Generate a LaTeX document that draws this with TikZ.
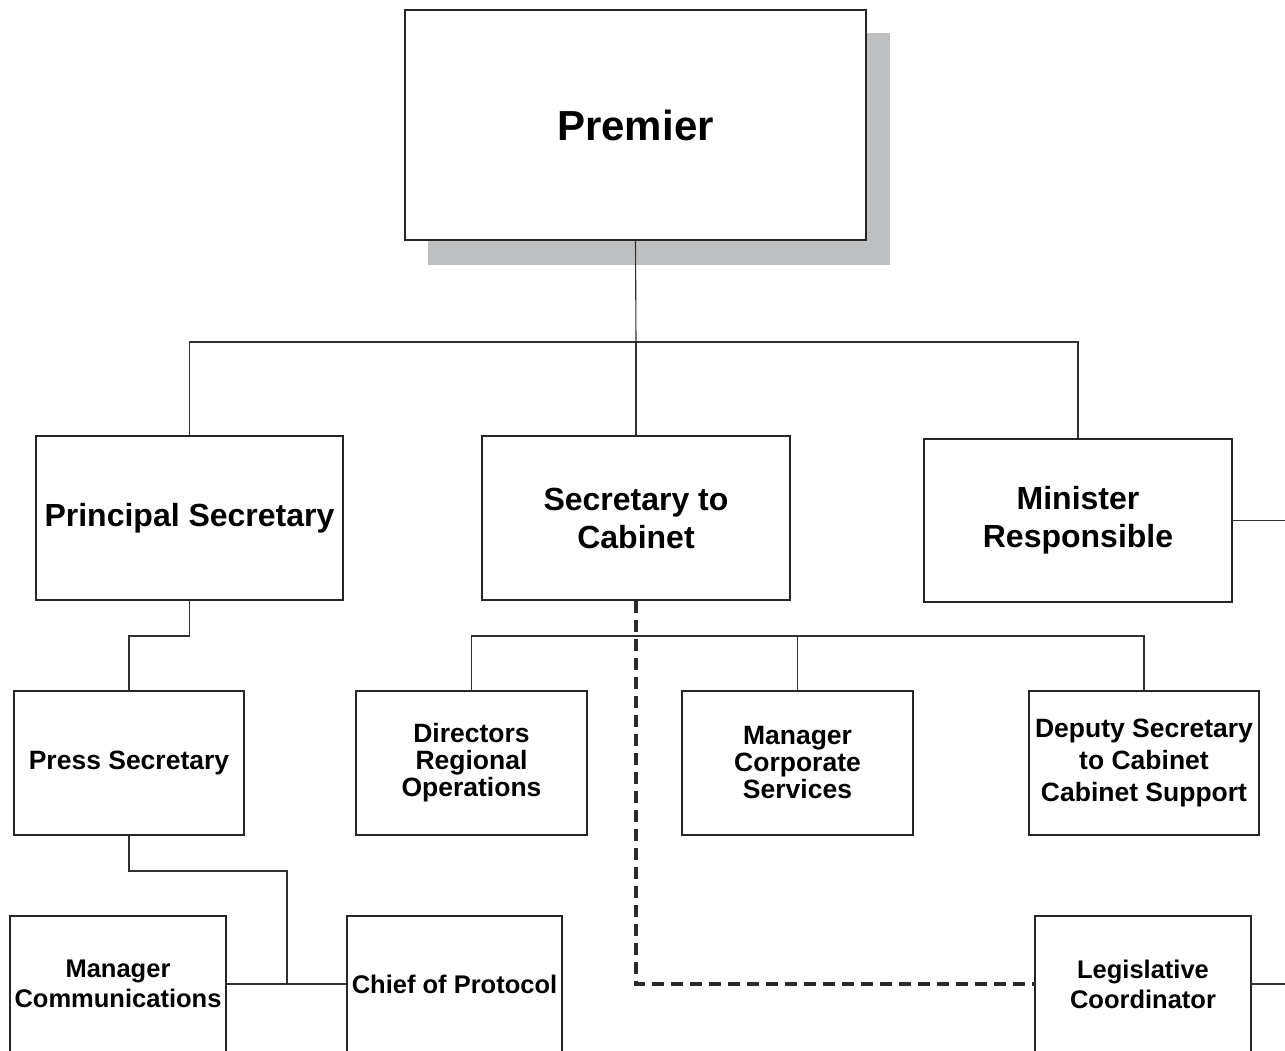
\documentclass[tikz,border=0pt]{standalone}
\usepackage{fontspec}
\setmainfont{Liberation Sans}
\definecolor{boxc}{HTML}{262626}
\definecolor{linec}{HTML}{303030}
\definecolor{shadowc}{HTML}{BEBFC1}
\definecolor{dashcol}{HTML}{2A2A2A}
\begin{document}
\begin{tikzpicture}[x=1pt,y=-1pt,
  box/.style={draw=boxc, line width=1.7pt, fill=white, rectangle, inner sep=0pt, align=center},
  big/.style={font=\fontsize{32}{38}\selectfont\bfseries},
  mid/.style={font=\fontsize{26.5}{27}\selectfont\bfseries},
  low/.style={font=\fontsize{25.5}{30}\selectfont\bfseries},
  conn/.style={draw=linec, line width=1.1pt},
  dashc/.style={draw=dashcol, line width=3.2pt, dash pattern=on 12pt off 7pt}]
\useasboundingbox (0,0) rectangle (1285,1050);
\fill[white] (0,0) rectangle (1285,1050);
% shadow and top box
\node[fill=shadowc, inner sep=0pt, minimum width=462pt, minimum height=232pt] (shadow) at (659,149) {};
\node[box, minimum width=461pt, minimum height=230pt, font=\fontsize{42}{48}\selectfont\bfseries] (premier) at (635.5,125) {Premier};
% second level
\node[box, big, minimum width=307pt, minimum height=164pt] (principal) at (189.5,518) {Principal Secretary};
\node[box, big, minimum width=308pt, minimum height=164pt] (cabinet) at (636,518) {Secretary to\\Cabinet};
\node[box, big, minimum width=308pt, minimum height=163pt] (minister) at (1078,520.5) {Minister\\Responsible};
% third level
\node[box, mid, minimum width=230pt, minimum height=144pt] (press) at (129,763) {Press Secretary};
\node[box, mid, minimum width=231pt, minimum height=144pt] (directors) at (471.5,763) {Directors\\Regional\\Operations};
\node[box, mid, minimum width=231pt, minimum height=144pt] (corporate) at (797.5,763) {Manager\\Corporate\\Services};
\node[box, font=\fontsize{26.5}{32}\selectfont\bfseries, minimum width=230pt, minimum height=144pt] (deputy) at (1144,763) {Deputy Secretary\\to Cabinet\\Cabinet Support};
% fourth level
\node[box, low, minimum width=216pt, minimum height=136pt] (comms) at (118,984) {Manager\\Communications};
\node[box, low, minimum width=215pt, minimum height=136pt] (protocol) at (454.5,984) {Chief of Protocol};
\node[box, low, minimum width=216pt, minimum height=136pt] (legis) at (1143,984) {Legislative\\Coordinator};
% coordinates
\coordinate (bus1) at (636,342);
\coordinate (pp) at (129,636);
\coordinate (cb) at (636,636);
\coordinate (pb) at (287,871);
\coordinate (mr) at (1295,520.5);
\coordinate (lr) at (1295,984);
% connectors
\draw[conn] (premier.south) -- (bus1);
\draw[conn] (principal.north) |- (bus1) -| (minister.north);
\draw[conn] (bus1) -- (cabinet.north);
\draw[conn] (minister.east) -- (mr);
\draw[conn] (principal.south) |- (pp) -- (press.north);
\draw[conn] (directors.north) |- (cb) -| (deputy.north);
\draw[conn] (corporate.north) -- (corporate.north |- cb);
\draw[conn] (press.south) |- (pb) -- (pb |- comms.east);
\draw[conn] (comms.east) -- (protocol.west);
\draw[conn] (legis.east) -- (lr);
\draw[dashc] (cabinet.south) |- (legis.west);
\end{tikzpicture}
\end{document}
